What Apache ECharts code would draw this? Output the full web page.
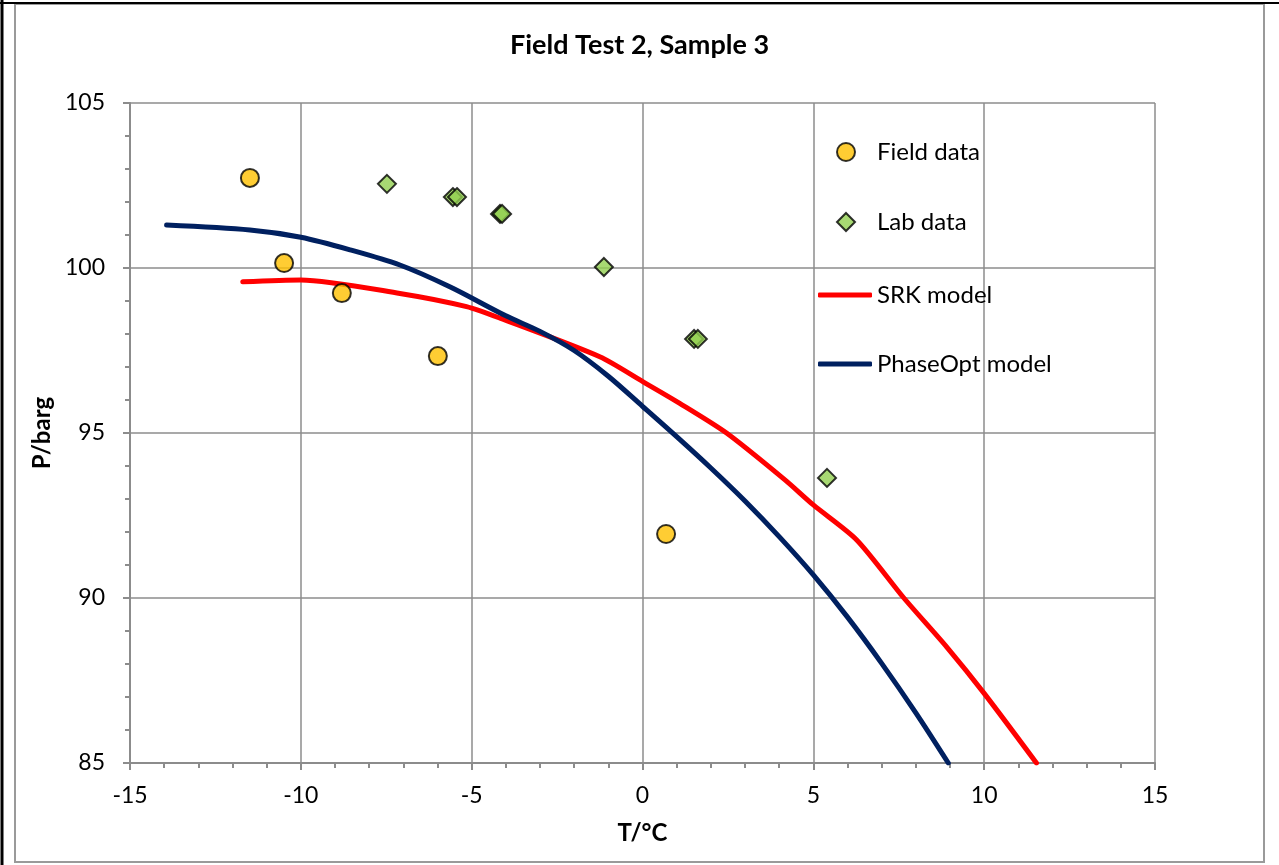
<!DOCTYPE html>
<html>
<head>
<meta charset="utf-8">
<title>Field Test 2, Sample 3</title>
<script src="https://cdn.jsdelivr.net/npm/echarts@6/dist/echarts.min.js"></script>
<style>
    html, body { margin: 0; padding: 0; background: #fff; }
    #main { width: 1279px; height: 865px; }
</style>
</head>
<body>
<div id="main"></div>
<script>
// measured points, T in degC, P in barg
var fieldData = [[-11.49, 102.73], [-10.49, 100.15], [-8.80, 99.24], [-5.99, 97.33], [0.69, 91.94]];
var labData = [[-7.48, 102.55], [-5.55, 102.15], [-5.43, 102.15], [-4.17, 101.64], [-4.11, 101.64],
    [-1.13, 100.03], [1.51, 97.85], [1.62, 97.85], [5.40, 93.64]];
// model curves
var srkModel = [[-11.70, 99.58], [-10.0, 99.64], [-7.10, 99.23], [-5.15, 98.83], [-4.17, 98.48],
    [-1.25, 97.31], [0.02, 96.55], [1.09, 95.90], [2.46, 95.00], [4.17, 93.58], [5.0, 92.82],
    [6.27, 91.76], [7.65, 90.0], [8.90, 88.52], [10.0, 87.11], [11.53, 85.0]];
var phaseOptModel = [[-13.93, 101.30], [-11.49, 101.15], [-10.0, 100.93], [-8.56, 100.55], [-7.10, 100.09],
    [-5.64, 99.43], [-4.0, 98.55], [-3.0, 98.08], [-2.0, 97.50], [-1.0, 96.72], [0.0, 95.81],
    [1.0, 94.89], [2.0, 93.94], [3.0, 92.94], [4.0, 91.86], [5.0, 90.70], [6.0, 89.42],
    [7.0, 88.02], [8.0, 86.52], [8.95, 85.0]];
var xTicks = { min: -15, max: 15, step: 5 };
var yTicks = { min: 85, max: 105, step: 5 };

var font = 'Lato, "Open Sans", sans-serif';
var gridColor = '#8c8c8c';

// one legend box per entry, icons centred on x=845, text starting at x=876
function legendRow(name, top, icon, w, h) {
    var left = 845 - w / 2;
    return {
        orient: 'vertical',
        left: left,
        top: top,
        padding: 0,
        icon: icon,
        itemWidth: w,
        itemHeight: h,
        textStyle: { fontFamily: font, fontSize: 24, color: '#000', lineHeight: 24,
            padding: [0, 0, 0, Math.max(0, 876 - (left + w) - 5)] },
        data: [name]
    };
}

var myChart = echarts.init(document.getElementById('main'));
var option = {
    backgroundColor: '#fff',
    animation: false,
    title: {
        text: 'Field Test 2, Sample 3',
        left: 'center',
        top: 27,
        textStyle: { fontFamily: font, fontWeight: 'bold', fontSize: 27, color: '#000' }
    },
    grid: { left: 130, right: 124, top: 103, bottom: 102 },
    legend: [
        legendRow('Field data', 140, 'circle', 18, 18),
        legendRow('Lab data', 210, 'diamond', 18, 18),
        legendRow('SRK model', 283, 'roundRect', 54, 5),
        legendRow('PhaseOpt model', 352, 'roundRect', 54, 5)
    ],
    xAxis: {
        type: 'value',
        min: xTicks.min,
        max: xTicks.max,
        interval: xTicks.step,
        name: 'T/°C',
        nameLocation: 'middle',
        nameGap: 58,
        nameTextStyle: { fontFamily: font, fontWeight: 'bold', fontSize: 24, color: '#000' },
        axisLine: { onZero: false, lineStyle: { color: gridColor, width: 2 } },
        axisTick: { length: 7, lineStyle: { color: gridColor, width: 2 } },
        minorTick: { show: true, splitNumber: 5, length: 5, lineStyle: { color: gridColor, width: 2 } },
        axisLabel: { margin: 21, fontFamily: font, fontSize: 23, color: '#000' },
        splitLine: { show: true, lineStyle: { color: gridColor, width: 1.5 } }
    },
    yAxis: {
        type: 'value',
        min: yTicks.min,
        max: yTicks.max,
        interval: yTicks.step,
        name: 'P/barg',
        nameLocation: 'middle',
        nameGap: 72,
        nameTextStyle: { fontFamily: font, fontWeight: 'bold', fontSize: 24, color: '#000' },
        axisLine: { show: true, onZero: false, lineStyle: { color: gridColor, width: 2 } },
        axisTick: { show: true, length: 7, lineStyle: { color: gridColor, width: 2 } },
        minorTick: { show: true, splitNumber: 5, length: 5, lineStyle: { color: gridColor, width: 2 } },
        axisLabel: { margin: 25, fontFamily: font, fontSize: 23, color: '#000' },
        splitLine: { show: true, lineStyle: { color: gridColor, width: 1.5 } }
    },
    graphic: [
        // grey chart frame plus the black edges at left/top
        { type: 'rect', z: -10, silent: true, shape: { x: 15, y: 4, width: 1249, height: 858 },
            style: { fill: 'none', stroke: '#9a9a9a', lineWidth: 2 } },
        { type: 'line', z: -9, silent: true, shape: { x1: 2, y1: 0, x2: 2, y2: 865 },
            style: { stroke: '#000', lineWidth: 3 } },
        { type: 'line', z: -9, silent: true, shape: { x1: 0, y1: 3, x2: 1279, y2: 3 },
            style: { stroke: '#000', lineWidth: 2 } }
    ],
    series: [
        {
            name: 'Field data',
            type: 'scatter',
            z: 4,
            symbol: 'circle',
            symbolSize: 18,
            itemStyle: { color: '#FFC000', borderColor: '#000', borderWidth: 2 },
            data: fieldData
        },
        {
            name: 'Lab data',
            type: 'scatter',
            z: 4,
            symbol: 'diamond',
            symbolSize: 18,
            itemStyle: { color: '#92D050', borderColor: '#000', borderWidth: 2 },
            data: labData
        },
        {
            name: 'SRK model',
            type: 'line',
            z: 2,
            smooth: 0.25,
            symbol: 'none',
            showSymbol: false,
            itemStyle: { color: '#FF0000' },
            lineStyle: { color: '#FF0000', width: 5, cap: 'round' },
            data: srkModel
        },
        {
            name: 'PhaseOpt model',
            type: 'line',
            z: 2,
            smooth: 0.3,
            symbol: 'none',
            showSymbol: false,
            itemStyle: { color: '#002060' },
            lineStyle: { color: '#002060', width: 5, cap: 'round' },
            data: phaseOptModel
        }
    ]
};
myChart.setOption(option);
</script>
</body>
</html>
